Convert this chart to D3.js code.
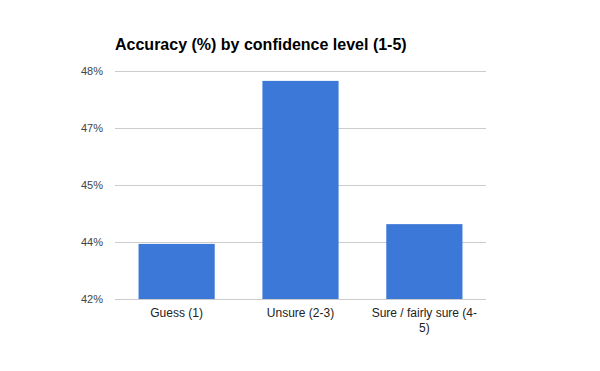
<!DOCTYPE html>
<html>
<head>
<meta charset="utf-8">
<script src="https://cdn.jsdelivr.net/npm/d3@7"></script>
<style>
  body { margin: 0; background: #fff; }
  svg { display: block; font-family: "Liberation Sans", Arial, sans-serif; }
</style>
</head>
<body>
<div id="chart"></div>
<script>
var categories = ["Guess (1)", "Unsure (2-3)", "Sure / fairly sure (4-5)"];
var accuracy = [43.45, 47.74, 43.97];
var tickValues = [42, 43.5, 45, 46.5, 48];

var width = 600, height = 371;
var margin = { top: 71, right: 114, bottom: 72, left: 115 };
var plot_w = width - margin.left - margin.right;
var plot_h = height - margin.top - margin.bottom;

var svg = d3.select("#chart").append("svg")
    .attr("width", width)
    .attr("height", height);

svg.append("text")
    .attr("x", 115)
    .attr("y", 50)
    .attr("font-size", "16px")
    .attr("font-weight", "bold")
    .attr("fill", "#000")
    .text("Accuracy (%) by confidence level (1-5)");

var g = svg.append("g").attr("transform", "translate(" + margin.left + "," + margin.top + ")");

var x = d3.scaleBand().domain(categories).range([0, plot_w]).paddingInner(0.385).paddingOuter(0.19);
var y = d3.scaleLinear().domain([42, 48]).range([plot_h, 0]);

// gridlines
g.selectAll("line.grid")
    .data(tickValues)
    .enter().append("line")
    .attr("class", "grid")
    .attr("x1", 0)
    .attr("x2", plot_w)
    .attr("y1", function (d) { return Math.round(y(d)) + 0.5; })
    .attr("y2", function (d) { return Math.round(y(d)) + 0.5; })
    .attr("stroke", "#cccccc")
    .attr("stroke-width", 1);

// y labels
g.selectAll("text.ytick")
    .data(tickValues)
    .enter().append("text")
    .attr("class", "ytick")
    .attr("x", -12)
    .attr("y", function (d) { return y(d) + 4; })
    .attr("text-anchor", "end")
    .attr("font-size", "11px")
    .attr("fill", "#444")
    .text(function (d) { return Math.round(d) + "%"; });

// bars
g.selectAll("rect.bar")
    .data(accuracy)
    .enter().append("rect")
    .attr("class", "bar")
    .attr("x", function (d, i) { return x(categories[i]); })
    .attr("width", x.bandwidth())
    .attr("y", function (d) { return y(d); })
    .attr("height", function (d) { return plot_h - y(d); })
    .attr("fill", "#3c78d8");

// x labels, wrapped like the original
var xLines = [["Guess (1)"], ["Unsure (2-3)"], ["Sure / fairly sure (4-", "5)"]];
categories.forEach(function (c, i) {
    var t = g.append("text")
        .attr("x", x(c) + x.bandwidth() / 2)
        .attr("y", plot_h + 18)
        .attr("text-anchor", "middle")
        .attr("font-size", "12px")
        .attr("fill", "#222");
    xLines[i].forEach(function (line, j) {
        t.append("tspan")
            .attr("x", x(c) + x.bandwidth() / 2)
            .attr("dy", j == 0 ? 0 : 15)
            .text(line);
    });
});
</script>
</body>
</html>
